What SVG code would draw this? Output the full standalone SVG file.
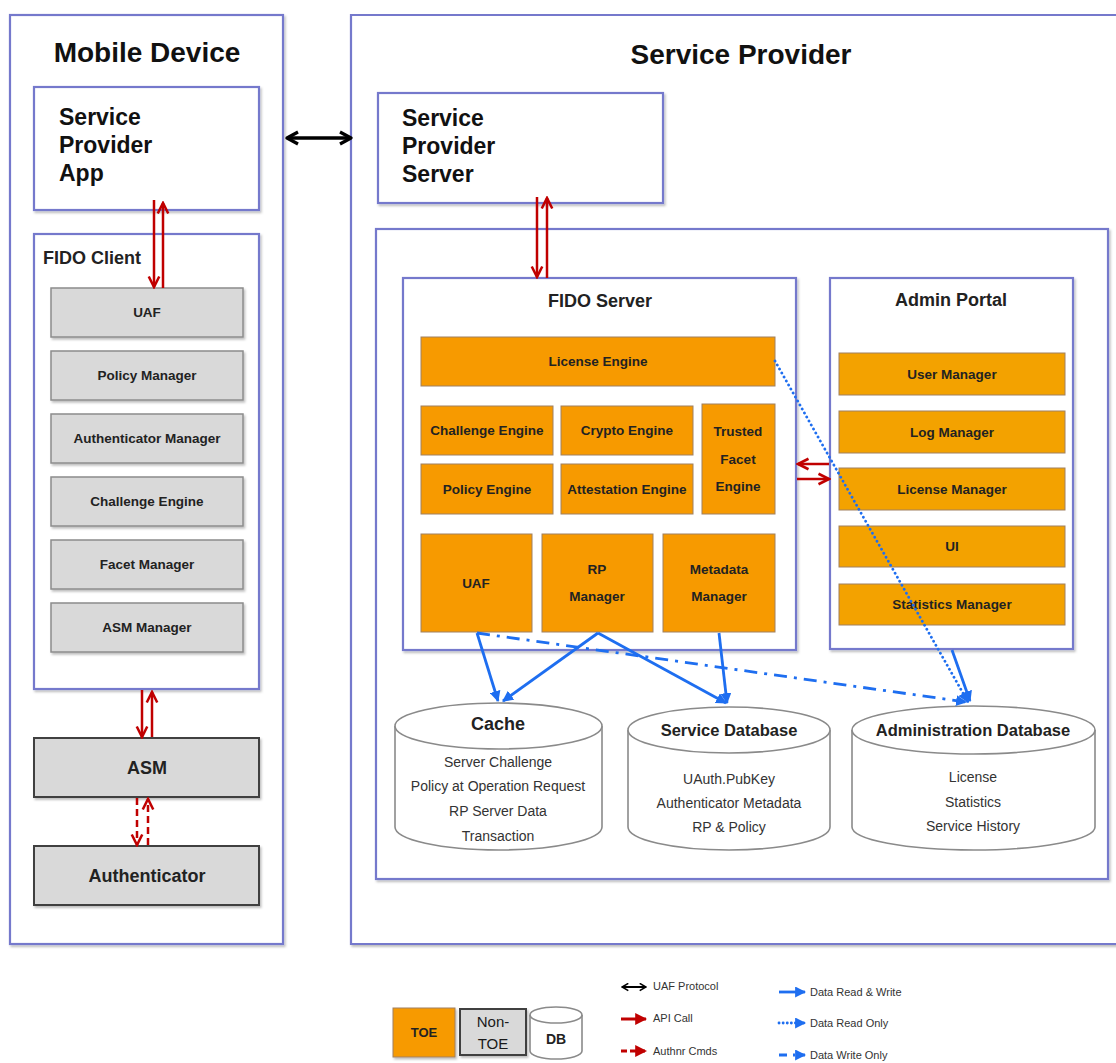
<svg xmlns="http://www.w3.org/2000/svg" width="1116" height="1063" viewBox="0 0 1116 1063">
<style>
.frame{fill:#fff;stroke:#7479CC;stroke-width:2.2}
.gray{fill:#D9D9D9;stroke:#8C8C8C;stroke-width:1.5}
.grayd{fill:#D9D9D9;stroke:#404040;stroke-width:2}
.org{fill:#F79A00;stroke:#A08060;stroke-width:1}
.org2{fill:#F3A200;stroke:#A08060;stroke-width:1}
.db{fill:#fff;stroke:#8A8A8A;stroke-width:1.6}
text{font-family:"Liberation Sans",Arial,sans-serif;fill:#1a1a1a}
.title{font-weight:bold;font-size:28px;fill:#111}
.big{font-weight:bold;font-size:23px;fill:#111}
.head{font-weight:bold;font-size:18px;fill:#222}
.lbl{font-weight:bold;font-size:13.5px;text-anchor:middle;fill:#222}
.dbt{font-weight:bold;font-size:16.5px;text-anchor:middle;fill:#222}
.dbl{font-size:14px;text-anchor:middle;fill:#333}
.leg{font-size:11px;fill:#333}
.red{stroke:#C00000;stroke-width:2.5;fill:none}
.blue{stroke:#1E6EF0;stroke-width:2.8;fill:none}
</style>
<defs>
<filter id="sh" x="-5%" y="-5%" width="115%" height="120%">
<feDropShadow dx="1.5" dy="2" stdDeviation="1.2" flood-color="#000" flood-opacity="0.25"/>
</filter>
<marker id="mRed" viewBox="0 0 12 12" refX="10.5" refY="6" markerWidth="14" markerHeight="14" markerUnits="userSpaceOnUse" orient="auto-start-reverse">
<path d="M1.5,1.5 L10.5,6 L1.5,10.5" fill="none" stroke="#C00000" stroke-width="2.2"/>
</marker>
<marker id="mRedF" viewBox="0 0 10 10" refX="9" refY="5" markerWidth="12" markerHeight="12" markerUnits="userSpaceOnUse" orient="auto">
<path d="M0,0 L10,5 L0,10 Z" fill="#C00000"/>
</marker>
<marker id="mBlk" viewBox="0 0 16 16" refX="14" refY="8" markerWidth="16" markerHeight="16" markerUnits="userSpaceOnUse" orient="auto-start-reverse">
<path d="M3,2 L14,8 L3,14" fill="none" stroke="#000" stroke-width="3.2" stroke-linejoin="round"/>
</marker>
<marker id="mBlkS" viewBox="0 0 10 10" refX="9" refY="5" markerWidth="9" markerHeight="9" markerUnits="userSpaceOnUse" orient="auto-start-reverse">
<path d="M2,1 L9,5 L2,9" fill="none" stroke="#000" stroke-width="1.8"/>
</marker>
<marker id="mBlue" viewBox="0 0 10 10" refX="9" refY="5" markerWidth="11" markerHeight="11" markerUnits="userSpaceOnUse" orient="auto">
<path d="M0,0 L10,5 L0,10 Z" fill="#1E6EF0"/>
</marker>
</defs>
<rect width="1116" height="1063" fill="#fff"/>

<!-- Containers -->
<g id="mobile-device">
<rect class="frame" x="10" y="15" width="273" height="929" filter="url(#sh)"/>
<text class="title" x="147" y="62" text-anchor="middle">Mobile Device</text>
</g>
<g id="service-provider">
<path class="frame" d="M1118,15 H351 V944 H1118" filter="url(#sh)"/>
<text class="title" x="741" y="64" text-anchor="middle">Service Provider</text>
</g>
<g id="sp-inner">
<rect class="frame" x="376" y="229" width="732" height="650" filter="url(#sh)"/>
</g>

<g id="sp-app">
<rect class="frame" x="34" y="87" width="225" height="123" filter="url(#sh)"/>
<text class="big" x="59" y="125">Service</text>
<text class="big" x="59" y="153">Provider</text>
<text class="big" x="59" y="181">App</text>
</g>

<g id="fido-client">
<rect class="frame" x="34" y="234" width="225" height="455" filter="url(#sh)"/>
<text class="head" x="43" y="264">FIDO Client</text>
</g>
<g id="fc-uaf"><rect class="gray" x="51" y="288" width="192" height="49" filter="url(#sh)"/><text class="lbl" x="147" y="317">UAF</text></g>
<g id="fc-policy"><rect class="gray" x="51" y="351" width="192" height="49" filter="url(#sh)"/><text class="lbl" x="147" y="380">Policy Manager</text></g>
<g id="fc-auth"><rect class="gray" x="51" y="414" width="192" height="49" filter="url(#sh)"/><text class="lbl" x="147" y="443">Authenticator Manager</text></g>
<g id="fc-challenge"><rect class="gray" x="51" y="477" width="192" height="49" filter="url(#sh)"/><text class="lbl" x="147" y="506">Challenge Engine</text></g>
<g id="fc-facet"><rect class="gray" x="51" y="540" width="192" height="49" filter="url(#sh)"/><text class="lbl" x="147" y="569">Facet Manager</text></g>
<g id="fc-asm"><rect class="gray" x="51" y="603" width="192" height="49" filter="url(#sh)"/><text class="lbl" x="147" y="632">ASM Manager</text></g>

<g id="asm"><rect class="grayd" x="34" y="738" width="225" height="59" filter="url(#sh)"/><text class="dbt" x="147" y="774" style="font-size:18px">ASM</text></g>
<g id="authenticator"><rect class="grayd" x="34" y="846" width="225" height="59" filter="url(#sh)"/><text class="dbt" x="147" y="882" style="font-size:18px">Authenticator</text></g>

<g id="sp-server">
<rect class="frame" x="378" y="93" width="285" height="110" filter="url(#sh)"/>
<text class="big" x="402" y="126">Service</text>
<text class="big" x="402" y="154">Provider</text>
<text class="big" x="402" y="182">Server</text>
</g>

<g id="fido-server">
<rect class="frame" x="403" y="278" width="393" height="372" filter="url(#sh)"/>
<text class="head" x="600" y="307" text-anchor="middle">FIDO Server</text>
</g>
<g id="fs-license"><rect class="org" x="421" y="337" width="354" height="49"/><text class="lbl" x="598" y="366">License Engine</text></g>
<g id="fs-challenge"><rect class="org" x="421" y="406" width="132" height="49"/><text class="lbl" x="487" y="435">Challenge Engine</text></g>
<g id="fs-crypto"><rect class="org" x="561" y="406" width="132" height="49"/><text class="lbl" x="627" y="435">Crypto Engine</text></g>
<g id="fs-policy"><rect class="org" x="421" y="464" width="132" height="50"/><text class="lbl" x="487" y="494">Policy Engine</text></g>
<g id="fs-attestation"><rect class="org" x="561" y="464" width="132" height="50"/><text class="lbl" x="627" y="494">Attestation Engine</text></g>
<g id="fs-trusted"><rect class="org" x="702" y="404" width="73" height="110"/><text class="lbl" x="738" y="436">Trusted</text><text class="lbl" x="738" y="464">Facet</text><text class="lbl" x="738" y="491">Engine</text></g>
<g id="fs-uaf"><rect class="org" x="421" y="534" width="111" height="98"/><text class="lbl" x="476" y="588">UAF</text></g>
<g id="fs-rp"><rect class="org" x="542" y="534" width="111" height="98"/><text class="lbl" x="597" y="574">RP</text><text class="lbl" x="597" y="601">Manager</text></g>
<g id="fs-metadata"><rect class="org" x="663" y="534" width="112" height="98"/><text class="lbl" x="719" y="574">Metadata</text><text class="lbl" x="719" y="601">Manager</text></g>

<g id="admin-portal">
<rect class="frame" x="830" y="278" width="243" height="371" filter="url(#sh)"/>
<text class="head" x="951" y="306" text-anchor="middle">Admin Portal</text>
</g>
<g id="ap-user"><rect class="org2" x="839" y="353" width="226" height="42"/><text class="lbl" x="952" y="379">User Manager</text></g>
<g id="ap-log"><rect class="org2" x="839" y="411" width="226" height="42"/><text class="lbl" x="952" y="437">Log Manager</text></g>
<g id="ap-license"><rect class="org2" x="839" y="468" width="226" height="42"/><text class="lbl" x="952" y="494">License Manager</text></g>
<g id="ap-ui"><rect class="org2" x="839" y="526" width="226" height="41"/><text class="lbl" x="952" y="551">UI</text></g>
<g id="ap-stats"><rect class="org2" x="839" y="584" width="226" height="41"/><text class="lbl" x="952" y="609">Statistics Manager</text></g>

<g id="cache">
<path class="db" d="M395,726 V827 A103.5,23 0 0 0 602,827 V726"/>
<ellipse class="db" cx="498.5" cy="726" rx="103.5" ry="23"/>
<text class="dbt" x="498" y="730" style="font-size:18px">Cache</text>
<text class="dbl" x="498" y="767">Server Challenge</text>
<text class="dbl" x="498" y="791">Policy at Operation Request</text>
<text class="dbl" x="498" y="816">RP Server Data</text>
<text class="dbl" x="498" y="841">Transaction</text>
</g>
<g id="service-db">
<path class="db" d="M628,730 V827 A101,23 0 0 0 830,827 V730"/>
<ellipse class="db" cx="729" cy="730" rx="101" ry="23"/>
<text class="dbt" x="729" y="736">Service Database</text>
<text class="dbl" x="729" y="784">UAuth.PubKey</text>
<text class="dbl" x="729" y="808">Authenticator Metadata</text>
<text class="dbl" x="729" y="832">RP &amp; Policy</text>
</g>
<g id="admin-db">
<path class="db" d="M852,730 V827 A121.5,23 0 0 0 1095,827 V730"/>
<ellipse class="db" cx="973.5" cy="730" rx="121.5" ry="24"/>
<text class="dbt" x="973" y="736">Administration Database</text>
<text class="dbl" x="973" y="782">License</text>
<text class="dbl" x="973" y="807">Statistics</text>
<text class="dbl" x="973" y="831">Service History</text>
</g>

<g id="connectors">
<line x1="287" y1="138" x2="351" y2="138" stroke="#000" stroke-width="3.5" marker-start="url(#mBlk)" marker-end="url(#mBlk)"/>
<line class="red" x1="154" y1="200" x2="154" y2="287" marker-end="url(#mRed)"/>
<line class="red" x1="163" y1="288" x2="163" y2="203" marker-end="url(#mRed)"/>
<line class="red" x1="142" y1="690" x2="142" y2="737" marker-end="url(#mRed)"/>
<line class="red" x1="152" y1="737" x2="152" y2="692" marker-end="url(#mRed)"/>
<line class="red" x1="137" y1="798" x2="137" y2="845" stroke-dasharray="7,4" marker-end="url(#mRed)"/>
<line class="red" x1="148" y1="845" x2="148" y2="799" stroke-dasharray="7,4" marker-end="url(#mRed)"/>
<line class="red" x1="537" y1="197" x2="537" y2="277" marker-end="url(#mRed)"/>
<line class="red" x1="547" y1="278" x2="547" y2="198" marker-end="url(#mRed)"/>
<line class="red" x1="829" y1="464" x2="798" y2="464" marker-end="url(#mRed)"/>
<line class="red" x1="797" y1="479" x2="829" y2="479" marker-end="url(#mRed)"/>

<line class="blue" x1="477" y1="633" x2="498" y2="701" marker-end="url(#mBlue)"/>
<line class="blue" x1="598" y1="633" x2="503" y2="701" marker-end="url(#mBlue)"/>
<line class="blue" x1="598" y1="633" x2="726" y2="703" marker-end="url(#mBlue)"/>
<line class="blue" x1="719" y1="633" x2="727" y2="703" marker-end="url(#mBlue)"/>
<line class="blue" x1="952" y1="650" x2="970" y2="701" marker-end="url(#mBlue)"/>
<line class="blue" x1="477" y1="633" x2="966" y2="702" stroke-dasharray="13,7,3,7" marker-end="url(#mBlue)"/>
<line class="blue" x1="775" y1="361" x2="968" y2="702" stroke-width="3" stroke-dasharray="0.1,4.5" stroke-linecap="round" marker-end="url(#mBlue)"/>
</g>

<g id="legend">
<g id="leg-toe"><rect class="org" x="393" y="1008" width="62" height="49" filter="url(#sh)"/><text class="lbl" x="424" y="1037" style="font-size:13px">TOE</text></g>
<g id="leg-nontoe"><rect class="grayd" x="460" y="1009" width="66" height="46" filter="url(#sh)"/>
<text x="493" y="1027" text-anchor="middle" style="font-size:15px">Non-</text>
<text x="493" y="1049" text-anchor="middle" style="font-size:15px">TOE</text></g>
<g id="leg-db">
<path class="db" d="M530,1015 V1051 A26,8 0 0 0 582,1051 V1015"/>
<ellipse class="db" cx="556" cy="1015" rx="26" ry="8"/>
<text class="lbl" x="556" y="1044" style="font-size:14px">DB</text>
</g>
<line x1="622" y1="987" x2="646" y2="987" stroke="#000" stroke-width="2" marker-start="url(#mBlkS)" marker-end="url(#mBlkS)"/>
<text class="leg" x="653" y="990">UAF Protocol</text>
<line x1="621" y1="1019" x2="646" y2="1019" stroke="#C00000" stroke-width="3" marker-end="url(#mRedF)"/>
<text class="leg" x="653" y="1022">API Call</text>
<line x1="621" y1="1051" x2="646" y2="1051" stroke="#C00000" stroke-width="3" stroke-dasharray="6,3" marker-end="url(#mRedF)"/>
<text class="leg" x="653" y="1055">Authnr Cmds</text>
<line x1="779" y1="992" x2="805" y2="992" stroke="#1E6EF0" stroke-width="2.8" marker-end="url(#mBlue)"/>
<text class="leg" x="810" y="996">Data Read &amp; Write</text>
<line x1="779" y1="1023" x2="805" y2="1023" stroke="#1E6EF0" stroke-width="2.8" stroke-dasharray="0.1,4" stroke-linecap="round" marker-end="url(#mBlue)"/>
<text class="leg" x="810" y="1027">Data Read Only</text>
<line x1="779" y1="1055" x2="805" y2="1055" stroke="#1E6EF0" stroke-width="2.8" stroke-dasharray="8,6,2,6" marker-end="url(#mBlue)"/>
<text class="leg" x="810" y="1059">Data Write Only</text>
</g>
</svg>
